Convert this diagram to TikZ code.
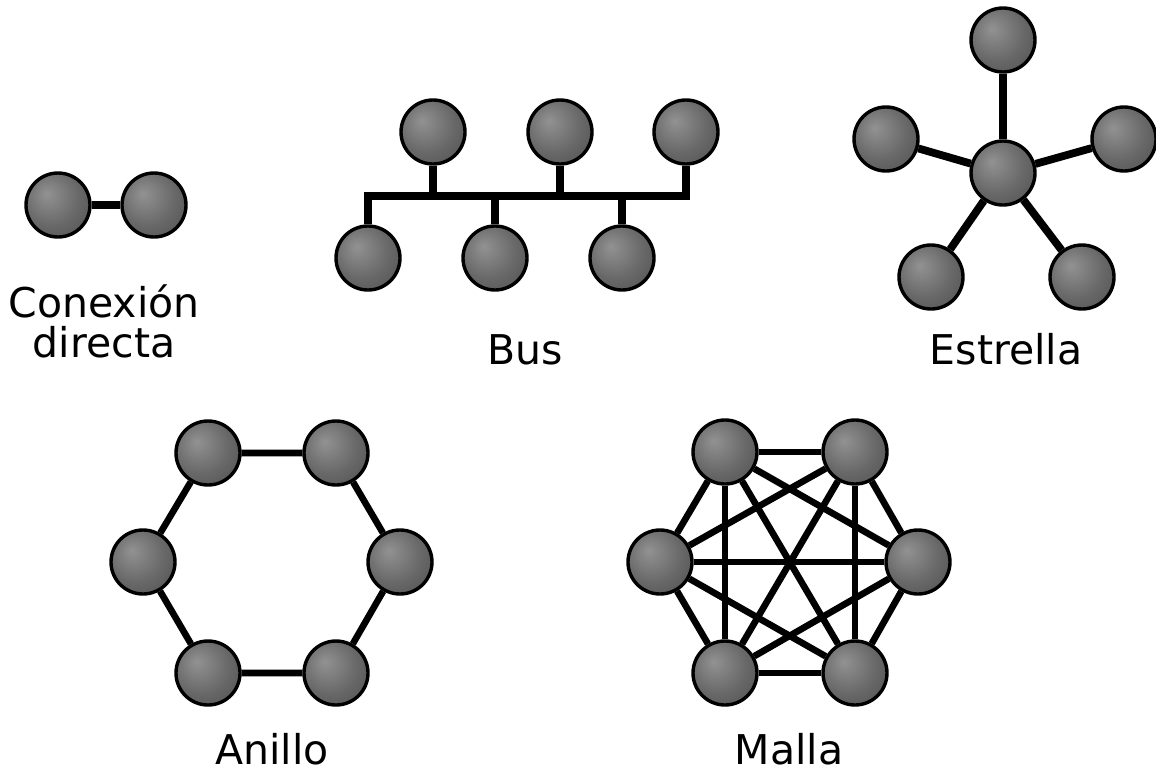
\documentclass[tikz,border=0pt]{standalone}
\usepackage{fontspec}
\setmainfont{DejaVu Sans}
\definecolor{ballhi}{RGB}{146,146,146}
\definecolor{ballmid}{RGB}{104,104,104}
\definecolor{balllo}{RGB}{68,68,68}
\pgfdeclareradialshading{netball}{\pgfpoint{-9bp}{9bp}}{color(0bp)=(ballhi); color(22bp)=(ballmid); color(48bp)=(balllo); color(60bp)=(balllo)}

\begin{document}
\begin{tikzpicture}[x=1pt, y=-1pt,
	host/.style = {circle, draw, line width=3.4pt, shading=netball, minimum size=64pt, inner sep=0pt},
	link/.style = {line width=7.8pt},
	thin link/.style = {line width=6.6pt},
	label/.style = {font=\fontsize{41}{40}\selectfont, inner sep=0pt, anchor=base}]
	\useasboundingbox (0,0) rectangle (1156,774);
	% conexion directa
	\node [host] (d1) at (58,205) {};
	\node [host] (d2) at (154,205) {};
	\draw [link] (d1) -- (d2);
	\node [label, align=center] (ldirecta) at (104,357) {Conexión\\directa};
	% bus
	\node [host] (b1) at (433,132) {};
	\node [host] (b2) at (560,132) {};
	\node [host] (b3) at (686,132) {};
	\node [host] (b4) at (368,258) {};
	\node [host] (b5) at (495,258) {};
	\node [host] (b6) at (622,258) {};
	\coordinate (bus) at (500,196);
	\draw [link, line join=miter] (b4.north) -- (b4.north |- bus) -- (b3.south |- bus) -- (b3.south);
	\foreach \h in {b1,b2} \draw [link] (\h.south) -- (\h.south |- bus);
	\foreach \h in {b5,b6} \draw [link] (\h.north) -- (\h.north |- bus);
	\node [label] (lbus) at (525,364) {Bus};
	% estrella
	\node [host] (s0) at (1003,173) {};
	\node [host] (s1) at (1003,40) {};
	\node [host] (s2) at (886,139) {};
	\node [host] (s3) at (1124,139) {};
	\node [host] (s4) at (931,277) {};
	\node [host] (s5) at (1082,277) {};
	\foreach \h in {s1,s2,s3,s4,s5} \draw [link] (s0) -- (\h);
	\node [label] (lestrella) at (1006,364) {Estrella};
	% anillo
	\node [host] (a1) at (208,453) {};
	\node [host] (a2) at (336,453) {};
	\node [host] (a3) at (400,562) {};
	\node [host] (a4) at (336,673) {};
	\node [host] (a5) at (208,673) {};
	\node [host] (a6) at (143,562) {};
	\draw [thin link] (a1) -- (a2) (a2) -- (a3) (a3) -- (a4) (a4) -- (a5) (a5) -- (a6) (a6) -- (a1);
	\node [label] (lanillo) at (272,764) {Anillo};
	% malla
	\node [host] (m1) at (725,452) {};
	\node [host] (m2) at (855,452) {};
	\node [host] (m3) at (918,562) {};
	\node [host] (m4) at (855,673) {};
	\node [host] (m5) at (725,673) {};
	\node [host] (m6) at (660,562) {};
	\foreach \i/\j in {m1/m2,m1/m3,m1/m4,m1/m5,m1/m6,m2/m3,m2/m4,m2/m5,m2/m6,m3/m4,m3/m5,m3/m6,m4/m5,m4/m6,m5/m6}
		\draw [thin link] (\i) -- (\j);
	\node [label] (lmalla) at (789,764) {Malla};
\end{tikzpicture}
\end{document}
